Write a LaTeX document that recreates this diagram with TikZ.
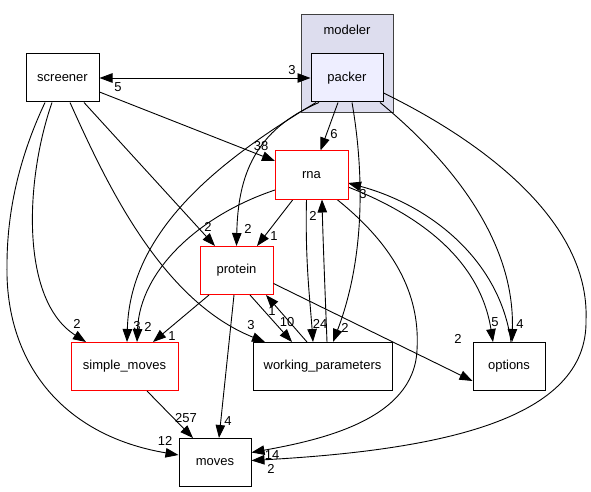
\documentclass[tikz,border=0pt]{standalone}
\usepackage{fontspec}
\setmainfont{Liberation Sans}
\usetikzlibrary{arrows.meta,positioning,fit}

\definecolor{clusterfill}{HTML}{DDDDEE}
\definecolor{clusterline}{HTML}{404040}
\definecolor{packerfill}{HTML}{EEEEFF}
\definecolor{pkgred}{HTML}{FF0000}

\begin{document}
\begin{tikzpicture}[
  x=1pt, y=-1pt,
  font=\fontsize{13}{15}\selectfont,
  dirbox/.style={rectangle, draw, line width=1pt,
                 minimum width=72pt, minimum height=48pt, inner sep=2pt},
  pkgbox/.style={rectangle, draw=pkgred, line width=1pt,
                 minimum width=72pt, minimum height=48pt, inner sep=2pt},
  clusterbox/.style={rectangle, draw=clusterline, fill=clusterfill,
                     line width=1pt, inner sep=0pt},
  dep/.style={-{Triangle[length=13pt,width=9.5pt]}, line width=0.9pt},
  twoway/.style={{Triangle[length=13pt,width=9.5pt]}-{Triangle[length=13pt,width=9.5pt]},
                 line width=0.9pt},
  numlabel/.style={inner sep=0pt},
]
  \useasboundingbox (0,0) rectangle (591,492);

  % cluster
  \node[clusterbox, fit={(301,15) (393,113)}] (modeler) {};
  \node[below=7pt of modeler.north] (modelertitle) {modeler};

  \node[dirbox, fill=packerfill] (packer) at (347,78) {packer};
  \node[dirbox, minimum width=73pt] (screener) at (62.5,78) {screener};
  \node[pkgbox, draw=none] (rna) at (311.5,175) {rna};
  \node[pkgbox, minimum width=73pt] (protein) at (236.5,270.5) {protein};
  \node[pkgbox, minimum width=107pt] (simple) at (124.5,366.5) {simple\_moves};
  \node[dirbox, minimum width=139pt] (wp) at (322.5,366.5) {working\_parameters};
  \node[dirbox] (options) at (509,366.5) {options};
  \node[dirbox] (moves) at (215,462.5) {moves};

  % screener
  \draw[twoway] (screener.east) -- (packer.west)
    node[numlabel] (l1) at (118,87) {5}
    node[numlabel] (l2) at (292,70) {3};
  \draw[dep] ([yshift=-14pt]screener.east) -- ([yshift=14pt]rna.west)
    node[numlabel] (l3) at (261,146) {38};
  \draw[dep] ([xshift=21.5pt]screener.south) -- ([xshift=-21.5pt]protein.north)
    node[numlabel] (l4) at (208,227) {2};
  \draw[dep] ([xshift=7.5pt]screener.south) .. controls (105,180) and (160,300)
    .. ([xshift=-57.5pt]wp.north)
    node[numlabel] (l5) at (251,325) {3};
  \draw[dep] ([xshift=-10.5pt]screener.south) .. controls (25,180) and (20,300)
    .. ([xshift=-38.5pt]simple.north)
    node[numlabel] (l6) at (77,324) {2};
  \draw[dep] ([xshift=-17.5pt]screener.south) .. controls (25,145) and (7,200)
    .. (7,265) .. controls (5,360) and (60,435) .. ([yshift=7.5pt]moves.west)
    node[numlabel] (l7) at (165,441) {12};

  % packer
  \draw[dep] ([xshift=-9pt]packer.south) -- ([xshift=9pt]rna.north)
    node[numlabel] (l8) at (334,134) {6};
  \draw[dep] ([xshift=-28pt]packer.south) .. controls (255,130) and (238,175)
    .. (protein.north)
    node[numlabel] (l9) at (248,229) {2};
  \draw[dep] ([xshift=-31pt]packer.south) .. controls (220,160) and (130,230)
    .. ([xshift=2.5pt]simple.north)
    node[numlabel] (l10) at (137,326) {3};
  \draw[dep] ([xshift=5pt]packer.south) .. controls (362,160) and (368,250)
    .. ([xshift=10.5pt]wp.north)
    node[numlabel] (l11) at (345,328) {2};
  \draw[dep] ([xshift=33pt]packer.south) .. controls (450,160) and (515,240)
    .. ([xshift=3pt]options.north)
    node[numlabel] (l12) at (520,324) {4};
  \draw[dep] ([yshift=-15pt]packer.east) .. controls (480,140) and (590,220)
    .. (586,320) .. controls (588,420) and (440,450) .. ([yshift=2pt]moves.east)
    node[numlabel] (l13) at (271,469) {2};

  % rna
  \draw[dep] ([xshift=-18.5pt]rna.south) -- ([xshift=20.5pt]protein.north)
    node[numlabel] (l14) at (274,236) {1};
  \draw[dep] ([yshift=-15pt]rna.west) .. controls (200,215) and (140,270)
    .. ([xshift=12.5pt]simple.north)
    node[numlabel] (l15) at (148,327) {2};
  \draw[dep] ([xshift=-5pt]rna.south) .. controls (305,260) and (310,300)
    .. ([xshift=-9.5pt]wp.north)
    node[numlabel] (l16) at (320,324) {24};
  \draw[dep] ([xshift=4.5pt]wp.north) .. controls (325,290) and (323,240)
    .. ([xshift=10.5pt]rna.south)
    node[numlabel] (l17) at (313,216) {2};
  \draw[dep] ([yshift=-12pt]rna.east) .. controls (420,215) and (480,260)
    .. ([xshift=-16pt]options.north)
    node[numlabel] (l18) at (495,322) {5};
  \draw[dep] ([xshift=2pt]options.north) .. controls (500,260) and (430,205)
    .. ([yshift=-8pt]rna.east)
    node[numlabel] (l19) at (363,194) {3};
  \draw[dep] ([xshift=25.5pt]rna.south) .. controls (400,250) and (420,300)
    .. (417,350) .. controls (414,420) and (320,440) .. ([yshift=10pt]moves.east)
    node[numlabel] (l20) at (272,455) {14};

  % protein
  \draw[dep] ([xshift=-27.5pt]protein.south) -- ([xshift=28.5pt]simple.north)
    node[numlabel] (l21) at (172,336) {1};
  \draw[dep] ([xshift=13.5pt]protein.south) -- ([xshift=-30.5pt]wp.north)
    node[numlabel] (l22) at (287,322) {10};
  \draw[dep] ([xshift=-15.5pt]wp.north) -- ([xshift=29.5pt]protein.south)
    node[numlabel] (l23) at (272,311) {1};
  \draw[dep] ([xshift=-2.5pt]protein.south) -- ([xshift=4pt]moves.north)
    node[numlabel] (l24) at (228,421) {4};
  \draw[dep] ([yshift=-13pt]protein.east) -- ([yshift=-14.5pt]options.west)
    node[numlabel] (l25) at (458,339) {2};

  \draw[dep] ([xshift=22.5pt]simple.south) -- ([xshift=-22pt]moves.north)
    node[numlabel] (l26) at (186,418) {257};

  % rna border on top of the connectors
  \draw[pkgred, line width=1pt] (rna.north west) rectangle (rna.south east);

\end{tikzpicture}
\end{document}
